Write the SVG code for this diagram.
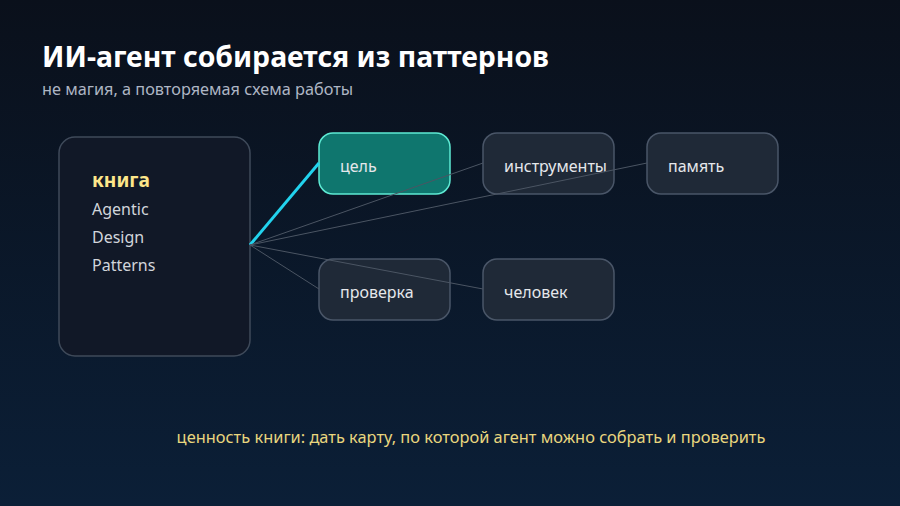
<svg xmlns="http://www.w3.org/2000/svg" width="900" height="506" viewBox="0 0 900 506">
<defs>
<linearGradient id="bg" x1="0" y1="0" x2="0" y2="1">
<stop offset="0" stop-color="#0a101b"/>
<stop offset="1" stop-color="#0b1f37"/>
</linearGradient>
<style>
text{font-family:"Noto Sans","Open Sans","DejaVu Sans",sans-serif}
.node{fill:#1f2937;stroke:#4a5668;stroke-width:1.5}
.lbl{fill:#e5e7eb;font-size:16px}
.edge{stroke:#4b5563;stroke-width:1;fill:none}
</style>
</defs>
<rect width="900" height="506" fill="url(#bg)"/>
<text x="42" y="67" font-size="28.4" font-weight="bold" fill="#ffffff">ИИ-агент собирается из паттернов</text>
<text x="42" y="95" font-size="16.3" fill="#aeb6c4">не магия, а повторяемая схема работы</text>
<g id="book">
<rect x="59" y="137" width="191" height="219" rx="16" fill="#111827" stroke="#3f4a5a" stroke-width="1.5"/>
<text x="92" y="187" font-size="19.2" font-weight="bold" fill="#fde68a">книга</text>
<text x="92" y="215" font-size="16" fill="#d1d5db">Agentic</text>
<text x="92" y="243" font-size="16" fill="#d1d5db">Design</text>
<text x="92" y="271" font-size="16" fill="#d1d5db">Patterns</text>
</g>
<g id="goal">
<rect x="319" y="133" width="131" height="61" rx="14" fill="#0f766e" stroke="#5eead4" stroke-width="1.5"/>
<text x="340" y="172" class="lbl">цель</text>
</g>
<g id="tools">
<rect x="483" y="133" width="131" height="61" rx="14" class="node"/>
<text x="504" y="172" class="lbl">инструменты</text>
</g>
<g id="memory">
<rect x="647" y="133" width="131" height="61" rx="14" class="node"/>
<text x="668" y="172" class="lbl">память</text>
</g>
<g id="check">
<rect x="319" y="259" width="131" height="61" rx="14" class="node"/>
<text x="340" y="298" class="lbl">проверка</text>
</g>
<g id="human">
<rect x="483" y="259" width="131" height="61" rx="14" class="node"/>
<text x="504" y="298" class="lbl">человек</text>
</g>
<g id="connectors">
<line x1="250" y1="245" x2="319" y2="163" stroke="#22d3ee" stroke-width="3"/>
<line x1="250" y1="245" x2="483" y2="163" class="edge"/>
<line x1="250" y1="245" x2="647" y2="163" class="edge"/>
<line x1="250" y1="245" x2="319" y2="289" class="edge"/>
<line x1="250" y1="245" x2="483" y2="289" class="edge"/>
</g>
<text x="471" y="443" font-size="16.4" fill="#e9d67e" text-anchor="middle">ценность книги: дать карту, по которой агент можно собрать и проверить</text>
</svg>
